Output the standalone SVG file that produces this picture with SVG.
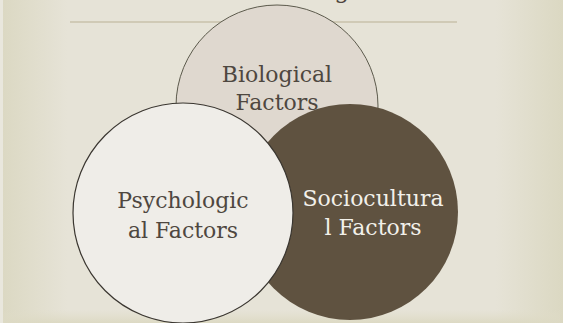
<svg xmlns="http://www.w3.org/2000/svg" width="563" height="323" viewBox="0 0 563 323">
  <defs>
    <linearGradient id="bgH" x1="0" y1="0" x2="1" y2="0">
      <stop offset="0" stop-color="#dbd8c2"/>
      <stop offset="0.12" stop-color="#e6e3d7"/>
      <stop offset="0.88" stop-color="#e6e3d7"/>
      <stop offset="1" stop-color="#dbd8c2"/>
    </linearGradient>
    <linearGradient id="bgV" x1="0" y1="0" x2="0" y2="1">
      <stop offset="0" stop-color="#e1ddc9" stop-opacity="0"/>
      <stop offset="1" stop-color="#dcd9c3" stop-opacity="1"/>
    </linearGradient>
    <style>
      .lbl { font-family: "DejaVu Serif", "Liberation Serif", serif; font-size: 22px; text-anchor: middle; }
      .dark { fill: #4e4740; }
      .light { fill: #f2f0ea; }
    </style>
  </defs>

  <!-- slide background -->
  <rect x="0" y="0" width="563" height="323" fill="url(#bgH)"/>
  <rect x="0" y="0" width="3" height="323" fill="#e9e7dd"/>
  <rect x="3" y="310" width="557" height="13" fill="url(#bgV)"/>

  <!-- title (runs off the top edge) and rule -->
  <text x="342" y="-2" class="lbl dark" style="font-size:24px">g</text>
  <line x1="70" y1="22" x2="457" y2="22" stroke="#c9c2ab" stroke-width="1.5"/>

  <g id="biological">
    <circle cx="277" cy="106" r="101" fill="#dfd8cf" stroke="#5c5a4c" stroke-width="1"/>
    <text class="lbl dark" x="277" y="82">Biological</text>
    <text class="lbl dark" x="277" y="110">Factors</text>
  </g>

  <g id="sociocultural">
    <circle cx="350" cy="212" r="108" fill="#5f5240"/>
    <text class="lbl light" x="373" y="206">Sociocultura</text>
    <text class="lbl light" x="373" y="235">l Factors</text>
  </g>

  <g id="psychological">
    <circle cx="183" cy="213" r="110" fill="#efede8" stroke="#3a3630" stroke-width="1.2"/>
    <text class="lbl dark" x="183" y="208">Psychologic</text>
    <text class="lbl dark" x="183" y="238">al Factors</text>
  </g>

  <g id="connectors"/>
</svg>
